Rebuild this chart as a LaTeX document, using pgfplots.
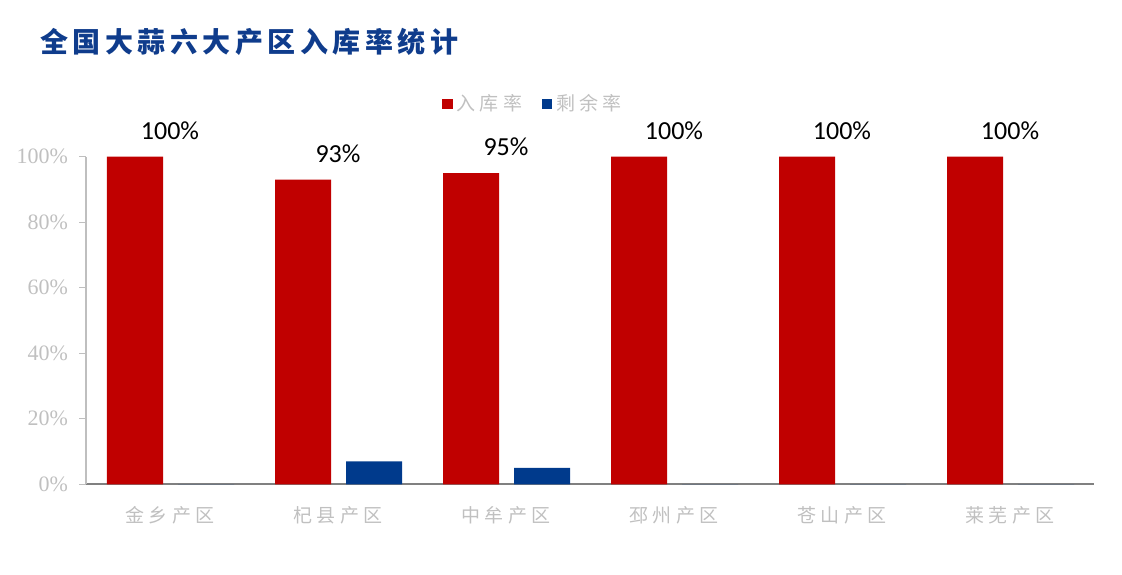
\documentclass[border=0pt]{standalone}
\usepackage{pgfplots}
\pgfplotsset{compat=1.18}
\usepackage{fontspec}
\setmainfont{Liberation Serif}
\newfontfamily\cjk[LetterSpace=22]{Noto Sans CJK SC}
\newfontfamily\cjktitle[LetterSpace=16]{Noto Sans CJK SC}
\newfontfamily\calib{Carlito}
\definecolor{barred}{HTML}{C00000}
\definecolor{barblue}{HTML}{003A8C}
\definecolor{titleblue}{HTML}{0F3C8C}
\definecolor{lblgray}{HTML}{C0C0C0}
\begin{document}
\begin{tikzpicture}
\begin{axis}[
  /pgf/number format/assume math mode=true,
  scale only axis, width=504pt, height=163.8pt,
  xmin=-0.5, xmax=5.5, ymin=0, ymax=100,
  clip=false,
  axis lines=left,
  axis line style={-},
  x axis line style={draw=black!50, line width=0.9pt},
  y axis line style={draw=black!25, line width=0.8pt},
  xtick={0,1,2,3,4,5},
  xticklabels={金乡产区,杞县产区,中牟产区,邳州产区,苍山产区,莱芜产区},
  xtick style={draw=none},
  xticklabel style={font=\cjk\fontsize{9.5}{9.5}\selectfont, text=lblgray, yshift=-4pt},
  ytick={0,20,40,60,80,100},
  yticklabel={\pgfmathprintnumber{\tick}\%},
  yticklabel style={font=\fontsize{11}{11}\selectfont, text=lblgray, xshift=-2pt},
  ytick style={draw=black!25, line width=0.6pt},
  tick align=outside, major tick length=3.5pt,
  legend columns=2,
  legend style={draw=none, fill=none, at={(rel axis cs:0.4445,1.16)}, anchor=center,
    font=\cjk\fontsize{9.5}{9.5}\selectfont, text=lblgray,
    /tikz/every even column/.append style={column sep=8pt}},
]
\addplot[ybar, bar width=28pt, bar shift=-17.5pt, fill=barred, draw=none,
  legend image code/.code={\fill[barred] (0pt,-2.6pt) rectangle (5.2pt,2.6pt);},
  nodes near coords={\pgfmathprintnumber{\pgfplotspointmeta}\%},
  nodes near coords style={font=\calib\fontsize{13}{13}\selectfont, text=black, anchor=south, yshift=5pt}]
  coordinates {(0,100) (1,93) (2,95) (3,100) (4,100) (5,100)};
\addlegendentry{入库率}
\addplot[ybar, bar width=28pt, bar shift=18pt, fill=barblue, draw=none,
  legend image code/.code={\fill[barblue] (0pt,-2.6pt) rectangle (5.2pt,2.6pt);}]
  coordinates {(0,0) (1,7) (2,5) (3,0) (4,0) (5,0)};
\addlegendentry{剩余率}
\coordinate (O) at (rel axis cs:0,0);
\node[anchor=west, text=titleblue, font=\cjktitle\bfseries\fontsize{14}{14}\selectfont, inner sep=0pt]
  at (rel axis cs:-0.04563,1.3492) {全国大蒜六大产区入库率统计};
\end{axis}
\pgfresetboundingbox
\path (O) ++(-43pt,-44.85pt) rectangle ++(561pt,287pt);
\end{tikzpicture}
\end{document}
